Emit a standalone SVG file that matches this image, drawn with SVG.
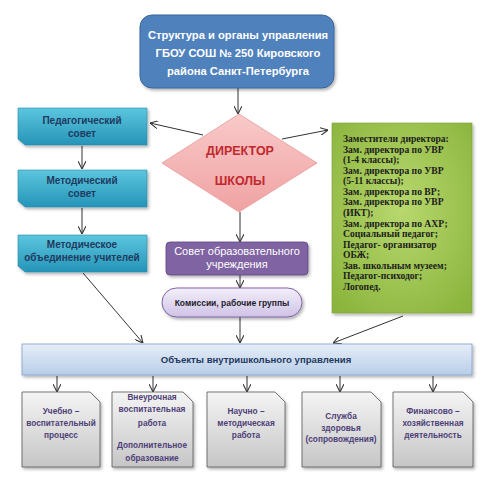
<svg xmlns="http://www.w3.org/2000/svg" width="500" height="490" viewBox="0 0 500 490">
<defs>
<linearGradient id="gTeal" x1="0" y1="0" x2="0" y2="1"><stop offset="0" stop-color="#5cc6de"/><stop offset="1" stop-color="#2594b8"/></linearGradient>
<linearGradient id="gPink" x1="0" y1="0" x2="0" y2="1"><stop offset="0" stop-color="#f9c9c9"/><stop offset="1" stop-color="#f0a2a2"/></linearGradient>
<radialGradient id="gGreen" cx="0.5" cy="0.45" r="0.7"><stop offset="0" stop-color="#b8d86e"/><stop offset="1" stop-color="#8ab43c"/></radialGradient>
<linearGradient id="gLav" x1="0" y1="0" x2="0" y2="1"><stop offset="0" stop-color="#f3effa"/><stop offset="1" stop-color="#cfc3e6"/></linearGradient>
<linearGradient id="gBar" x1="0" y1="0" x2="0" y2="1"><stop offset="0" stop-color="#e6eef9"/><stop offset="1" stop-color="#b9cde8"/></linearGradient>
<linearGradient id="gGray" x1="0" y1="0" x2="0" y2="1"><stop offset="0" stop-color="#f4f4f4"/><stop offset="1" stop-color="#c6c6c6"/></linearGradient>
<marker id="arr" viewBox="0 0 10 10" refX="10" refY="5" markerWidth="8" markerHeight="8" orient="auto" markerUnits="userSpaceOnUse"><path d="M0,0 L10,5 L0,10" fill="none" stroke="#333" stroke-width="1.3"/></marker>
<filter id="sh" x="-10%" y="-10%" width="130%" height="130%"><feDropShadow dx="1.5" dy="2" stdDeviation="1.5" flood-color="#000" flood-opacity="0.3"/></filter>
</defs>
<style>
.t{font-family:"Liberation Sans",Arial,sans-serif;font-weight:bold;text-anchor:middle}
.w{fill:#ffffff}
.n{fill:#1f3a5f}
.p{fill:#4e3f78}
.g{font-family:"Liberation Serif","Times New Roman",serif;font-weight:bold;fill:#1c1c1c;font-size:9.6px}
.c{stroke:#333;stroke-width:1;fill:none}
.teal{fill:url(#gTeal);stroke:#2a8aa8;stroke-width:0.6}
.gray{fill:url(#gGray);stroke:#555;stroke-width:0.8}
</style>
<rect width="500" height="490" fill="#ffffff"/>

<g id="connectors">
<line class="c" x1="238" y1="88" x2="238" y2="114" marker-end="url(#arr)"/>
<line class="c" x1="203" y1="135" x2="150" y2="123" marker-end="url(#arr)"/>
<line class="c" x1="282" y1="139" x2="328" y2="130" marker-end="url(#arr)"/>
<line class="c" x1="82" y1="146" x2="82" y2="169" marker-end="url(#arr)"/>
<line class="c" x1="82" y1="208" x2="82" y2="234" marker-end="url(#arr)"/>
<line class="c" x1="83" y1="273" x2="143" y2="343" marker-end="url(#arr)"/>
<line class="c" x1="240" y1="212" x2="240" y2="242" marker-end="url(#arr)"/>
<line class="c" x1="240" y1="275" x2="240" y2="288" marker-end="url(#arr)"/>
<line class="c" x1="240" y1="317" x2="240" y2="343" marker-end="url(#arr)"/>
<line class="c" x1="403" y1="316" x2="333" y2="343" marker-end="url(#arr)"/>
<line class="c" x1="57" y1="376" x2="57" y2="392" marker-end="url(#arr)"/>
<line class="c" x1="153" y1="376" x2="153" y2="392" marker-end="url(#arr)"/>
<line class="c" x1="247" y1="376" x2="247" y2="392" marker-end="url(#arr)"/>
<line class="c" x1="340" y1="376" x2="340" y2="392" marker-end="url(#arr)"/>
<line class="c" x1="433" y1="376" x2="433" y2="392" marker-end="url(#arr)"/>
</g>

<g id="title">
<rect x="140" y="15" width="194" height="73" rx="12" fill="#4f81bd" stroke="#3a6496" stroke-width="1" filter="url(#sh)"/>
<text class="t w" font-size="11.2" x="238" y="39">Структура и органы управления</text>
<text class="t w" font-size="11.2" x="238" y="57">ГБОУ СОШ № 250 Кировского</text>
<text class="t w" font-size="11.2" x="238" y="75">района Санкт-Петербурга</text>
</g>

<g id="director">
<polygon points="239,114 317,163 239,212 162,163" fill="url(#gPink)" stroke="#e49a9a" stroke-width="0.8"/>
<text class="t" font-size="12.5" fill="#c0282d" x="240" y="155">ДИРЕКТОР</text>
<text class="t" font-size="12.5" fill="#c0282d" x="240" y="185">ШКОЛЫ</text>
</g>

<g id="ped-sovet">
<path class="teal" d="M18,108 H147 V145 H25 L18,139 Z" filter="url(#sh)"/>
<text class="t n" font-size="10" x="82" y="124">Педагогический</text>
<text class="t n" font-size="10" x="82" y="137">совет</text>
</g>
<g id="met-sovet">
<path class="teal" d="M18,170 H147 V207 H25 L18,201 Z" filter="url(#sh)"/>
<text class="t n" font-size="10" x="82" y="184">Методический</text>
<text class="t n" font-size="10" x="82" y="197">совет</text>
</g>
<g id="met-ob">
<path class="teal" d="M18,235 H147 V272 H25 L18,266 Z" filter="url(#sh)"/>
<text class="t n" font-size="10" x="82" y="248">Методическое</text>
<text class="t n" font-size="10" x="82" y="261">объединение учителей</text>
</g>

<g id="deputies">
<rect x="332" y="123" width="140" height="190" fill="url(#gGreen)" stroke="#7aa03a" stroke-width="0.6" filter="url(#sh)"/>
<text class="g" x="343" y="142">Заместители директора:</text>
<text class="g" x="343" y="152.6">Зам. директора по УВР</text>
<text class="g" x="343" y="163.1">(1-4 классы);</text>
<text class="g" x="343" y="173.7">Зам. директора по УВР</text>
<text class="g" x="343" y="184.3"> (5-11 классы);</text>
<text class="g" x="343" y="194.9">Зам. директора по ВР;</text>
<text class="g" x="343" y="205.4">Зам. директора по УВР</text>
<text class="g" x="343" y="216">(ИКТ);</text>
<text class="g" x="343" y="226.6">Зам. директора по АХР;</text>
<text class="g" x="343" y="237.1">Социальный педагог;</text>
<text class="g" x="343" y="247.7">Педагог- организатор</text>
<text class="g" x="343" y="258.3">ОБЖ;</text>
<text class="g" x="343" y="268.9">Зав. школьным музеем;</text>
<text class="g" x="343" y="279.4">Педагог-психодог;</text>
<text class="g" x="343" y="290">Логопед.</text>
</g>

<g id="sovet-ou">
<rect x="166" y="242" width="142" height="33" rx="4" fill="#8064a2" stroke="#5c4680" stroke-width="0.8" filter="url(#sh)"/>
<text class="t w" font-size="11" style="font-weight:normal" x="237" y="255">Совет образовательного</text>
<text class="t w" font-size="11" style="font-weight:normal" x="237" y="268">учреждения</text>
</g>

<g id="komissii">
<rect x="162" y="288" width="140" height="29" rx="14.5" fill="url(#gLav)" stroke="#8064a2" stroke-width="1" filter="url(#sh)"/>
<text class="t" font-size="8.5" fill="#1c1c2c" x="232" y="306">Комиссии,  рабочие группы</text>
</g>

<g id="objects">
<rect x="22" y="344" width="450" height="31" fill="url(#gBar)" stroke="#7f9fc9" stroke-width="0.8" filter="url(#sh)"/>
<text class="t n" font-size="9.6" x="256" y="363">Объекты  внутришкольного управления</text>
</g>

<g id="b1">
<path class="gray" d="M22,392 H90 L100,402 V467 H22 Z" filter="url(#sh)"/>
<text class="t p" font-size="8.3" x="61" y="414">Учебно –</text>
<text class="t p" font-size="8.3" x="61" y="426">воспитательный</text>
<text class="t p" font-size="8.3" x="61" y="438">процесс</text>
</g>
<g id="b2">
<path class="gray" d="M112,392 H183 L193,402 V467 H112 Z" filter="url(#sh)"/>
<text class="t p" font-size="8.3" x="152" y="400">Внеурочная</text>
<text class="t p" font-size="8.3" x="152" y="412">воспитательная</text>
<text class="t p" font-size="8.3" x="152" y="426">работа</text>
<text class="t p" font-size="8.3" x="152" y="448">Дополнительное</text>
<text class="t p" font-size="8.3" x="152" y="461">образование</text>
</g>
<g id="b3">
<path class="gray" d="M207,392 H275 L285,402 V467 H207 Z" filter="url(#sh)"/>
<text class="t p" font-size="8.3" x="246" y="414">Научно –</text>
<text class="t p" font-size="8.3" x="246" y="426">методическая</text>
<text class="t p" font-size="8.3" x="246" y="438">работа</text>
</g>
<g id="b4">
<path class="gray" d="M302,392 H371 L381,402 V467 H302 Z" filter="url(#sh)"/>
<text class="t p" font-size="8.3" x="341" y="419">Служба</text>
<text class="t p" font-size="8.3" x="341" y="431">здоровья</text>
<text class="t p" font-size="8.3" x="341" y="442">(сопровождения)</text>
</g>
<g id="b5">
<path class="gray" d="M393,392 H463 L473,402 V467 H393 Z" filter="url(#sh)"/>
<text class="t p" font-size="8.3" x="433" y="414">Финансово –</text>
<text class="t p" font-size="8.3" x="433" y="426">хозяйственная</text>
<text class="t p" font-size="8.3" x="433" y="438">деятельность</text>
</g>
</svg>
